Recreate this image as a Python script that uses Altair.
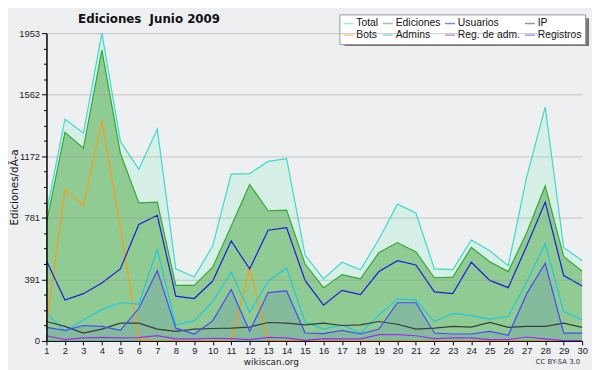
import altair as alt
import pandas as pd

days = list(range(1, 31))
total = [814, 1407, 1319, 1953, 1267, 1089, 1344, 457, 405, 603, 1058, 1062, 1139, 1156, 545,
         394, 499, 451, 645, 868, 812, 457, 453, 640, 572, 478, 1041, 1484, 593, 509]
ediciones = [751, 1323, 1223, 1845, 1191, 876, 881, 352, 352, 468, 728, 993, 826, 830, 488,
             338, 421, 394, 561, 624, 565, 401, 405, 593, 503, 440, 687, 983, 536, 442]
usuarios = [509, 259, 300, 367, 457, 739, 797, 284, 269, 380, 634, 457, 702, 718, 384,
            227, 321, 294, 440, 509, 482, 311, 300, 499, 384, 338, 603, 881, 415, 349]
admins = [175, 61, 133, 200, 242, 234, 582, 102, 127, 248, 436, 180, 380, 463, 119,
          75, 102, 50, 165, 265, 259, 123, 175, 161, 138, 155, 374, 618, 186, 133]
registros = [86, 67, 98, 92, 67, 207, 446, 81, 44, 127, 326, 61, 307, 317, 50,
             46, 67, 44, 75, 242, 242, 50, 44, 44, 61, 36, 300, 493, 50, 50]
ip = [123, 92, 50, 75, 113, 113, 75, 61, 75, 79, 81, 88, 117, 113, 102,
      113, 98, 102, 123, 106, 75, 81, 92, 88, 117, 86, 92, 92, 113, 86]
regadm = [33, 8, 19, 23, 19, 21, 33, 13, 13, 17, 15, 8, 23, 19, 4,
          15, 13, 13, 40, 40, 33, 15, 19, 19, 8, 8, 25, 13, 2, 2]
bots = [100, 962, 858, 1396, 720, 8, 0, 0, 0, 0, 0, 461, 0, 0, 0,
        0, 0, 0, 0, 0, 0, 0, 0, 0, 0, 0, 0, 0, 0, 0]

# legend fills column by column: (Total, Bots), (Ediciones, Admins), (Usuarios, Reg. de adm.), (IP, Registros)
series_names = ["Total", "Bots", "Ediciones", "Admins", "Usuarios", "Reg. de adm.", "IP", "Registros"]
series_colors = ["#3dd9c9", "#ff9a10", "#36a836", "#22c8dc", "#1c1cdc", "#a32cee", "#3c3c3c", "#4848ff"]
series_values = [total, bots, ediciones, admins, usuarios, regadm, ip, registros]

rows = []
for name, vals in zip(series_names, series_values):
    for d, v in zip(days, vals):
        rows.append({"day": d, "series": name, "value": v})
df = pd.DataFrame(rows)

YMAX = 1953
STEP = YMAX / 5
y_ticks = [i * YMAX / 20 for i in range(21)]
major_test = f"abs(datum.value/{STEP} - round(datum.value/{STEP})) < 0.01"

FONT = "Liberation Sans"

xs = alt.Scale(domain=[1, 30], nice=False, padding=0)
ys = alt.Scale(domain=[0, YMAX], nice=False)

x_enc = alt.X("day:Q", scale=xs, axis=alt.Axis(
    values=days, title=None, grid=False, tickSize=4, labelPadding=1,
    domainColor="#000", tickColor="#000", labelFont=FONT, labelFontSize=9.5,
    labelColor="#222", labelFlush=False, zindex=1))
y_enc = alt.Y("value:Q", scale=ys, axis=alt.Axis(
    values=y_ticks, title="Ediciones/dÃ-a",
    labelExpr=f"{major_test} ? format(datum.value, '.0f') : ''",
    gridOpacity={"condition": {"test": major_test, "value": 0.5}, "value": 0},
    tickSize={"condition": {"test": major_test, "value": 5}, "value": 3},
    gridColor="#999", domainColor="#000", domainWidth=1.5, tickColor="#000",
    labelFont=FONT, labelFontSize=9.5, labelColor="#222", labelPadding=2,
    titleFont="DejaVu Sans", titleFontSize=10.5, titleFontWeight="normal", titleColor="#111",
    titleX=-27, titleY=156, titleAngle=270, titleBaseline="bottom", titleAlign="center",
    zindex=1))

base = alt.Chart(df)

area_total = base.transform_filter(alt.datum.series == "Total").mark_area(
    color="#d6f0e8").encode(x=x_enc, y=y_enc)
area_edic = base.transform_filter(alt.datum.series == "Ediciones").mark_area(
    color="#90cb94").encode(x=x_enc, y=y_enc)
area_reg = base.transform_filter(alt.datum.series == "Registros").mark_area(
    color="#0000ff", opacity=0.08).encode(x=x_enc, y=y_enc)

lines = base.mark_line(strokeWidth=1.2).encode(
    x=x_enc, y=y_enc,
    color=alt.Color("series:N", scale=alt.Scale(domain=series_names, range=series_colors),
                    sort=series_names,
                    legend=alt.Legend(orient="none", legendX=297, legendY=-19, columns=4,
                                      symbolType="stroke", symbolStrokeWidth=1.5, symbolSize=100,
                                      symbolOpacity=0.55, labelFont=FONT,
                                      labelFontSize=10.5, labelColor="#111",
                                      fillColor="white", strokeColor="#999", padding=3,
                                      rowPadding=0, columnPadding=1, labelOffset=2, title=None)))

one = pd.DataFrame({"t": [""]})
shadow = alt.Chart(one).mark_rect(color="#777").encode(
    x=alt.value(302), x2=alt.value(550), y=alt.value(-15), y2=alt.value(13))

title = alt.Chart(pd.DataFrame({"t": ["Ediciones\u00a0 Junio 2009"]})).mark_text(
    font="DejaVu Sans", fontSize=12, fontWeight="bold", color="#111", baseline="middle").encode(
    x=alt.value(104), y=alt.value(-14), text="t:N")
site = alt.Chart(pd.DataFrame({"t": ["wikiscan.org"]})).mark_text(
    font="DejaVu Sans", fontSize=9, color="#222", baseline="middle").encode(
    x=alt.value(228), y=alt.value(333), text="t:N")
lic = alt.Chart(pd.DataFrame({"t": ["CC BY-SA 3.0"]})).mark_text(
    font="DejaVu Sans", fontSize=7, color="#333", baseline="middle", align="right").encode(
    x=alt.value(541), y=alt.value(333), text="t:N")

chart = alt.layer(shadow, area_total, area_edic, area_reg, lines, title, site, lic).properties(
    width=543, height=312,
    autosize=alt.AutoSizeParams(type="none"),
    padding={"left": 39, "top": 23, "right": 10, "bottom": 27},
    background="#eeeff1",
).configure_view(stroke=None)

chart.save("out.html", embed_options={"renderer": "svg", "actions": False})
